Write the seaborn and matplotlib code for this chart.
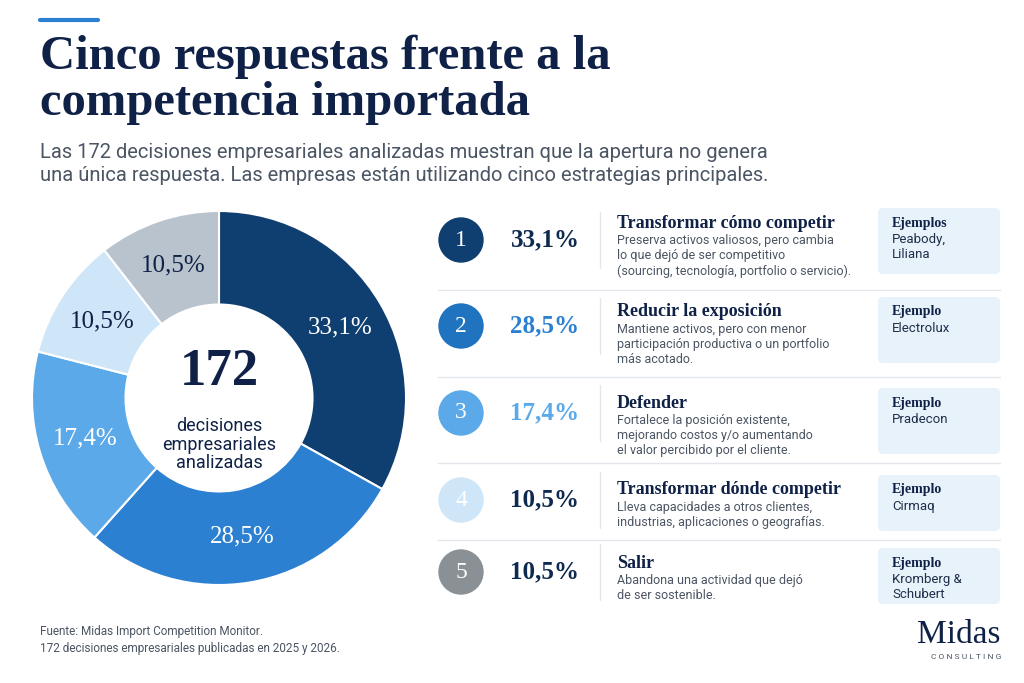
import numpy as np
import seaborn as sns
import matplotlib.pyplot as plt
from matplotlib.patches import Circle, FancyBboxPatch

sns.set_theme(style="white")
plt.rcParams['font.family'] = ['Roboto', 'DejaVu Sans']

# data
labels = ["Transformar cómo competir", "Reducir la exposición", "Defender",
          "Transformar dónde competir", "Salir"]
shares = [33.1, 28.5, 17.4, 10.5, 10.5]
descs = ["Preserva activos valiosos, pero cambia\nlo que dejó de ser competitivo\n(sourcing, tecnología, portfolio o servicio).",
         "Mantiene activos, pero con menor\nparticipación productiva o un portfolio\nmás acotado.",
         "Fortalece la posición existente,\nmejorando costos y/o aumentando\nel valor percibido por el cliente.",
         "Lleva capacidades a otros clientes,\nindustrias, aplicaciones o geografías.",
         "Abandona una actividad que dejó\nde ser sostenible."]
ex_heads = ["Ejemplos", "Ejemplo", "Ejemplo", "Ejemplo", "Ejemplo"]
examples = ["Peabody,\nLiliana", "Electrolux", "Pradecon", "Cirmaq", "Kromberg &\nSchubert"]
colors = ["#0f3e70", "#2b80d2", "#5ba9e8", "#cfe5f8", "#b9c3cd"]
pct_colors = ["#0f2a4f", "#2b80d2", "#5ba9e8", "#0f2a4f", "#0f2a4f"]
num_colors = ["#0f3e70", "#1f73bf", "#5ba9e8", "#cfe5f8", "#8a9196"]
total = 172

navy = "#0f2146"
serif = "Liberation Serif"
gray = "#4b5563"

fig = plt.figure(figsize=(10.24, 6.83), dpi=100)
fig.patch.set_facecolor("white")

# page canvas in pixel coordinates
bg = fig.add_axes([0, 0, 1, 1])
bg.set_xlim(0, 1024)
bg.set_ylim(683, 0)
bg.axis("off")

bg.plot([40, 98], [20, 20], color="#2b80d2", lw=3)
bg.text(40, 57, "Cinco respuestas frente a la", fontsize=35, fontweight="bold",
        family=serif, color=navy, va="center")
bg.text(40, 103, "competencia importada", fontsize=35, fontweight="bold",
        family=serif, color=navy, va="center")
bg.text(40, 164, "Las 172 decisiones empresariales analizadas muestran que la apertura no genera\n"
        "una única respuesta. Las empresas están utilizando cinco estrategias principales.",
        fontsize=14.5, color=gray, va="center", linespacing=1.25)

# donut
R = 187
pie_ax = fig.add_axes([(219 - R) / 1024, 1 - (398 + R) / 683, 2 * R / 1024, 2 * R / 683])
wedges, _ = pie_ax.pie(shares, colors=colors, startangle=90, counterclock=False,
                       wedgeprops=dict(width=0.5, edgecolor="white", linewidth=1.5))
pie_ax.set_xlim(-1, 1)
pie_ax.set_ylim(-1, 1)
ang0 = 90
for s, c in zip(shares, colors):
    mid = np.deg2rad(ang0 - s * 3.6 / 2)
    ang0 -= s * 3.6
    txtc = "white" if c in colors[:3] else navy
    pie_ax.text(0.75 * np.cos(mid), 0.75 * np.sin(mid), f"{s:.1f}%".replace(".", ","),
                ha="center", va="center", fontsize=18, family=serif, color=txtc)
pie_ax.text(0, 0.14, str(total), ha="center", va="center", fontsize=38,
            fontweight="bold", family=serif, color=navy)
pie_ax.text(0, -0.25, "decisiones\nempresariales\nanalizadas", ha="center", va="center",
            fontsize=13, color=navy, linespacing=1.05)

# rows on the right
row_y = [240, 326, 413, 500, 572]
box_top = [208, 297, 388, 475, 548]
box_h = [66, 66, 66, 56, 56]
seps = [290, 377, 463, 540]
for y in seps:
    bg.plot([438, 1000], [y, y], color="#e3e7ec", lw=1)
for i, y in enumerate(row_y):
    bg.add_patch(Circle((461, y), 22, color=num_colors[i]))
    bg.text(461, y, str(i + 1), ha="center", va="center", fontsize=17, family=serif,
            color="white")
    bg.text(545, y, f"{shares[i]:.1f}%".replace(".", ","), ha="center", va="center",
            fontsize=18, fontweight="bold", family=serif, color=pct_colors[i])
    bg.plot([600, 600], [y - 28, y + 28], color="#e3e7ec", lw=1)
    ty = box_top[i] + 15
    bg.text(617, ty, labels[i], fontsize=13, fontweight="bold", family=serif,
            color=navy, va="center")
    bg.text(617, ty + 11, descs[i], fontsize=9, color=gray, va="top", linespacing=1.2)
    bg.add_patch(FancyBboxPatch((878, box_top[i]), 122, box_h[i],
                                boxstyle="round,pad=0,rounding_size=5",
                                fc="#e8f2fb", ec="none"))
    bg.text(892, box_top[i] + 15, ex_heads[i], fontsize=10, fontweight="bold",
            family=serif, color=navy, va="center")
    bg.text(892, box_top[i] + 25, examples[i], fontsize=9.5, color="#1f2f4a",
            va="top", linespacing=1.15)

bg.text(40, 640, "Fuente: Midas Import Competition Monitor.\n"
        "172 decisiones empresariales publicadas en 2025 y 2026.",
        fontsize=8.5, color=gray, va="center", linespacing=1.4)
bg.text(1001, 635, "Midas", ha="right", va="center", fontsize=24, family=serif,
        color=navy)
bg.text(1001, 657, "C O N S U L T I N G", ha="right", va="center", fontsize=6,
        color=gray)

fig.savefig("out.png", dpi=100, facecolor="white")
